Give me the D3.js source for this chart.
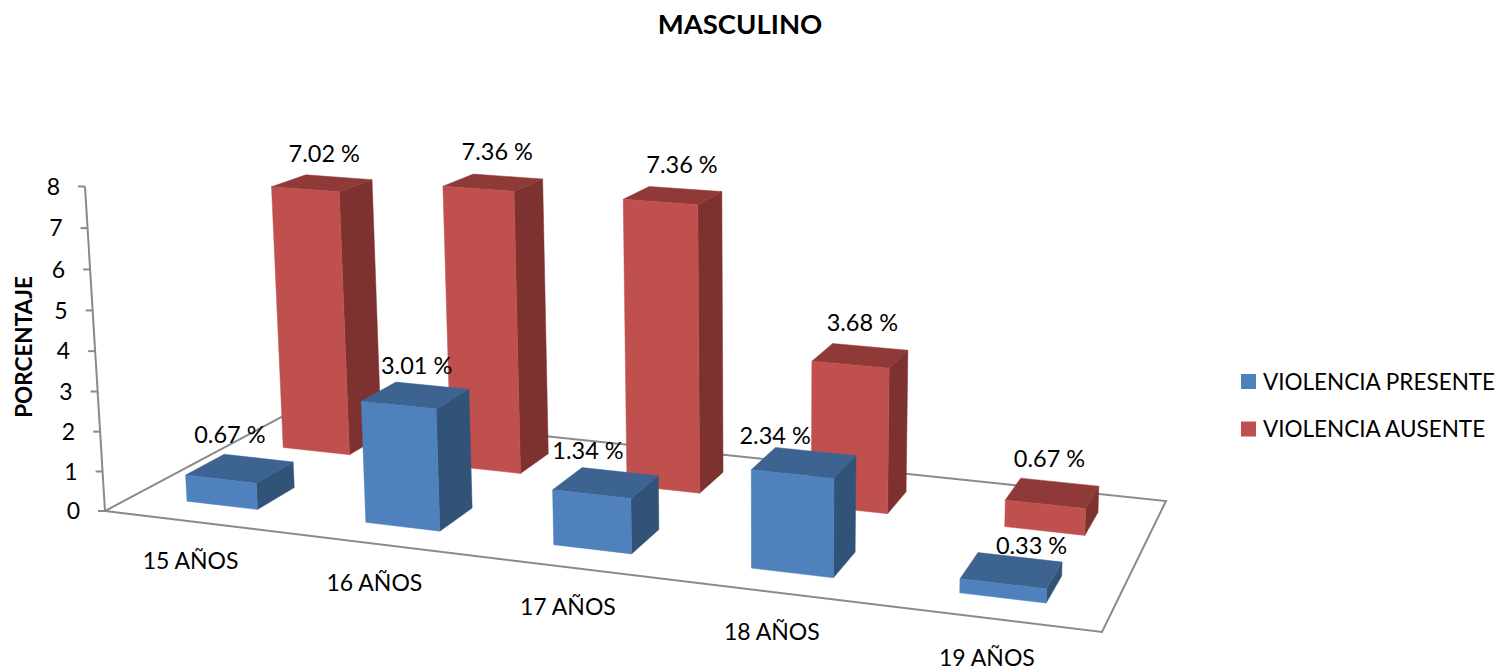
<!DOCTYPE html>
<html>
<head>
<meta charset="utf-8">
<title>MASCULINO</title>
<script src="https://cdn.jsdelivr.net/npm/d3@7"></script>
<style>
    html, body { margin: 0; padding: 0; background: #fff; }
    svg { display: block; }
    text { font-family: Lato, "Open Sans", sans-serif; fill: #000; }
</style>
</head>
<body>
<svg id="chart" width="1505" height="672"></svg>
<script>
// -------------------------
// Data
// -------------------------
const categories = ["15 AÑOS", "16 AÑOS", "17 AÑOS", "18 AÑOS", "19 AÑOS"];
const seriesNames = ["VIOLENCIA PRESENTE", "VIOLENCIA AUSENTE"];
const presente = [0.67, 3.01, 1.34, 2.34, 0.33];
const ausente = [7.02, 7.36, 7.36, 3.68, 0.67];
const yTicks = [0, 1, 2, 3, 4, 5, 6, 7, 8];

// -------------------------
// Projection: floor homography plus a vertical vanishing point
// -------------------------
const floorA = [105, 511], floorB = [1102, 632], floorC = [1166, 501], floorD = [294.5, 410];

function floorHomography(p0, p1, p2, p3) {
    const dx1 = p1[0] - p2[0], dy1 = p1[1] - p2[1];
    const dx2 = p3[0] - p2[0], dy2 = p3[1] - p2[1];
    const sx = p0[0] - p1[0] + p2[0] - p3[0], sy = p0[1] - p1[1] + p2[1] - p3[1];
    const den = dx1 * dy2 - dx2 * dy1;
    const g = (sx * dy2 - dx2 * sy) / den;
    const h = (dx1 * sy - sx * dy1) / den;
    return {
        a: p1[0] - p0[0] + g * p1[0], b: p3[0] - p0[0] + h * p3[0], c: p0[0],
        d: p1[1] - p0[1] + g * p1[1], e: p3[1] - p0[1] + h * p3[1], f: p0[1],
        g, h
    };
}
const H = floorHomography(floorA, floorB, floorC, floorD);

// height column: top of the wall at value 8 lands on (85, 185)
const vanish = [770, 11300], lift = -0.0292;

function project(u, v, w) {
    const s = lift * w;
    const X = H.a * u + H.b * v + H.c + s * vanish[0];
    const Y = H.d * u + H.e * v + H.f + s * vanish[1];
    const Z = H.g * u + H.h * v + 1 + s;
    return [X / Z, Y / Z];
}

// -------------------------
// Scales
// -------------------------
const x = d3.scaleBand().domain(categories).range([0, 1]).paddingInner(0.6).paddingOuter(0.3);
const depth = d3.scaleBand().domain(seriesNames).range([-0.007, 0.993]).paddingInner(0.618).paddingOuter(0.289);
const y = d3.scaleLinear().domain([0, 8]).range([0, 1]);

const palette = {
    [seriesNames[0]]: {front: "#4f81bd", top: "#3d6391", side: "#325378"},
    [seriesNames[1]]: {front: "#c0504d", top: "#8f3a38", side: "#7d3230"}
};

const svg = d3.select("#chart");
const line = d3.line().curve(d3.curveLinearClosed);
const AXIS = "#8a8a8a";

// -------------------------
// Titles
// -------------------------
svg.append("text").attr("x", 740).attr("y", 34)
    .attr("text-anchor", "middle").attr("font-size", 27.5).attr("font-weight", 700)
    .text("MASCULINO");

svg.append("text").attr("transform", "translate(32,347) rotate(-90)")
    .attr("text-anchor", "middle").attr("font-size", 22.5).attr("font-weight", 700)
    .text("PORCENTAJE");

// -------------------------
// Floor and value axis
// -------------------------
svg.append("path")
    .attr("d", line([project(0, 0, 0), project(1, 0, 0), project(1, 1, 0), project(0, 1, 0)]))
    .attr("fill", "#fff").attr("stroke", AXIS).attr("stroke-width", 2);

svg.append("line")
    .attr("x1", project(0, 0, y(0))[0]).attr("y1", project(0, 0, y(0))[1])
    .attr("x2", project(0, 0, y(8))[0]).attr("y2", project(0, 0, y(8))[1])
    .attr("stroke", AXIS).attr("stroke-width", 2);

const tick = svg.selectAll("g.tick").data(yTicks).enter().append("g").attr("class", "tick")
    .attr("transform", d => `translate(${project(0, 0, y(d))})`);
tick.append("line").attr("x1", -7).attr("x2", 0).attr("stroke", AXIS).attr("stroke-width", 2);
tick.append("text").attr("x", -25).attr("dy", "0.36em").attr("text-anchor", "end")
    .attr("font-size", 23).text(d => d);

// -------------------------
// Bars: back row first so the front row covers it
// -------------------------
function barFaces(cat, name, value) {
    const u0 = x(cat), u1 = u0 + x.bandwidth();
    const v0 = depth(name), v1 = v0 + depth.bandwidth();
    const w = y(value);
    return [
        {color: palette[name].side, pts: [project(u1, v0, 0), project(u1, v1, 0), project(u1, v1, w), project(u1, v0, w)]},
        {color: palette[name].top, pts: [project(u0, v0, w), project(u1, v0, w), project(u1, v1, w), project(u0, v1, w)]},
        {color: palette[name].front, pts: [project(u0, v0, 0), project(u1, v0, 0), project(u1, v0, w), project(u0, v0, w)]}
    ];
}

[[seriesNames[1], ausente], [seriesNames[0], presente]].forEach(([name, values]) => {
    const g = svg.append("g").attr("class", "series");
    values.forEach((val, i) => {
        g.append("g").selectAll("path").data(barFaces(categories[i], name, val)).enter().append("path")
            .attr("d", d => line(d.pts))
            .attr("fill", d => d.color)
            .attr("stroke", d => d.color)
            .attr("stroke-width", 0.5);
    });
});

// -------------------------
// Labels
// -------------------------
// hand placement of each value label around the bar top, per series
const labelNudge = {
    [seriesNames[0]]: [[-10, -4], [1, 0], [-18, -2], [-29, 3], [20, 5]],
    [seriesNames[1]]: [[2, 0], [4, -1], [9, -1], [2, -3], [-3, -5]]
};

[[seriesNames[0], presente], [seriesNames[1], ausente]].forEach(([name, values]) => {
    values.forEach((val, i) => {
        const p = project(x(categories[i]) + x.bandwidth() / 2, depth(name) + depth.bandwidth() / 2, y(val));
        const n = labelNudge[name][i];
        svg.append("text").attr("x", p[0] + n[0]).attr("y", p[1] - 30 + n[1])
            .attr("dy", "0.36em").attr("text-anchor", "middle").attr("font-size", 23.5)
            .text(`${val.toFixed(2)} %`);
    });
});

categories.forEach(cat => {
    const p = project(x(cat) + x.bandwidth() / 2, 0, 0);
    svg.append("text").attr("x", p[0] - 3).attr("y", p[1] + 39)
        .attr("dy", "0.36em").attr("text-anchor", "middle").attr("font-size", 23)
        .text(cat);
});

// -------------------------
// Legend
// -------------------------
const legend = svg.selectAll("g.legend").data(seriesNames).enter().append("g").attr("class", "legend")
    .attr("transform", (d, i) => `translate(1241,${374 + i * 47.5})`);
legend.append("rect").attr("width", 15).attr("height", 15).attr("fill", d => palette[d].front);
legend.append("text").attr("x", 22).attr("y", 7.5).attr("dy", "0.36em")
    .attr("font-size", 22.5).text(d => d);
</script>
</body>
</html>
